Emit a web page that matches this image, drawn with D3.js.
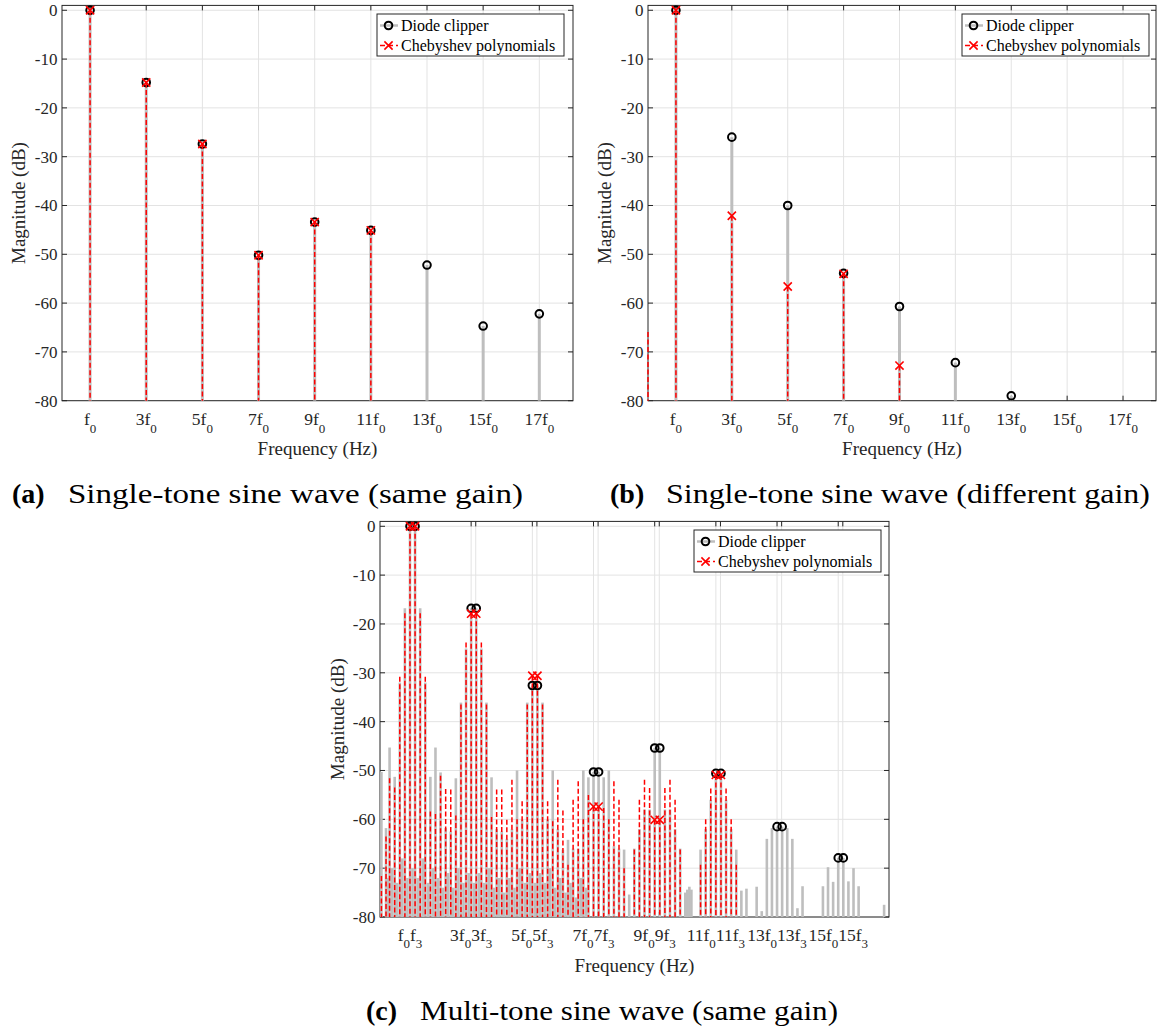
<!DOCTYPE html>
<html>
<head>
<meta charset="utf-8">
<title>Diode clipper vs Chebyshev spectra</title>
<script src="https://d3js.org/d3.v7.min.js"></script>
<style>
*{margin:0;padding:0;}
body{background:#fff;}
svg{display:block;font-family:"Liberation Serif","Times New Roman",serif;}
</style>
</head>
<body>
<script>
// ---- data (frequencies in units of f0, magnitudes in dB) ----
var yTicks = [0, -10, -20, -30, -40, -50, -60, -70, -80];
var yMin = -80, yMax = 1;

// (a) single tone, same gain
var aDiodeFreq = [1, 3, 5, 7, 9, 11, 13, 15, 17];
var aDiode     = [0, -14.8, -27.4, -50.2, -43.4, -45.1, -52.2, -64.7, -62.2];
var aChebFreq  = [1, 3, 5, 7, 9, 11];
var aCheb      = [0, -14.8, -27.4, -50.2, -43.4, -45.1];

// (b) single tone, different gain (Chebyshev also has a DC term)
var bDiodeFreq = [1, 3, 5, 7, 9, 11, 13];
var bDiode     = [0, -26.0, -40.0, -53.9, -60.7, -72.2, -79.0];
var bChebFreq  = [1, 3, 5, 7, 9];
var bCheb      = [0, -42.1, -56.6, -54.0, -72.8];
var bChebDC    = -65.9;

var abTickHarm   = [1, 3, 5, 7, 9, 11, 13, 15, 17];
var abTickPrefix = ["", "3", "5", "7", "9", "11", "13", "15", "17"];

// (c) multi tone: components on bins of f0/6
var cDiodeBins = [0.4, 1.3, 2, 3, 4, 5, 6, 7, 8, 9,
  10, 11, 12, 13, 14, 15, 16, 17, 18, 19,
  20, 21, 22, 23, 24, 25, 26, 27, 28, 29,
  30, 31, 32, 33, 34, 35, 36, 37, 38, 39,
  40, 41, 42, 43, 44, 45, 46, 47, 48, 49,
  50, 51, 52, 53, 54, 55, 56, 57, 58, 59,
  60, 60.4, 60.8, 61.2,
  63, 64, 65, 66, 67, 68, 69, 70, 71, 72,
  74, 75, 76, 77, 78, 79, 80, 81, 82, 83,
  87, 88, 89, 90, 91, 92, 93, 94, 99];
var cDiode = [-50.3, -61.8, -45.3, -51.3, -32.0, -16.8, 0, 0, -16.8, -32.0,
  -51.3, -45.3, -50.4, -61.8, -62.5, -51.6, -36.1, -25.0, -16.8, -16.8,
  -25.0, -36.1, -51.4, -62.0, -62.5, -64.0, -62.0, -50.0, -60.0, -36.1,
  -32.6, -32.6, -36.1, -60.0, -50.0, -62.0, -66.2, -64.2, -66.0, -66.0,
  -50.0, -51.4, -50.3, -50.3, -51.4, -50.0, -65.5, -66.0, -66.2, -75.4,
  -66.0, -62.0, -58.0, -58.0, -45.4, -45.4, -58.0, -58.0, -62.0, -66.0,
  -75.0, -74.4, -73.8, -74.4,
  -66.2, -62.0, -56.0, -50.6, -50.6, -56.0, -62.0, -66.2, -74.6, -74.2,
  -73.8, -78.8, -64.0, -61.8, -61.5, -61.5, -61.8, -64.0, -78.2, -73.7,
  -73.7, -69.8, -72.8, -67.9, -67.9, -72.7, -70.0, -73.7, -77.5];

var cChebBins = [0.4, 1.3, 2, 3, 4, 5, 6, 7, 8, 9,
  10, 11, 12, 13, 14, 15, 16, 17, 18, 19,
  20, 21, 22, 23, 24, 25, 26, 27, 28, 29,
  30, 31, 32, 33, 34, 35, 36, 37, 38, 39,
  40, 41, 42, 43, 44, 45, 46, 47, 48,
  50, 51, 52, 53, 54, 55, 56, 57, 58, 59,
  63, 64, 65, 66, 67, 68, 69, 70];
var cCheb = [-71.6, -63.5, -51.6, -53.5, -30.8, -17.8, 0, 0, -17.8, -30.8,
  -58.4, -58.9, -51.1, -53.8, -53.9, -59.2, -36.5, -23.8, -17.9, -17.9,
  -23.8, -36.5, -59.5, -53.9, -53.9, -60.1, -51.9, -60.0, -56.3, -36.5,
  -30.6, -30.6, -36.5, -56.3, -60.4, -51.9, -58.2, -69.3, -56.0, -52.2,
  -60.0, -55.0, -57.4, -57.4, -57.7, -60.0, -52.2, -56.0, -70.0,
  -66.2, -56.0, -51.9, -53.6, -60.1, -60.1, -53.6, -51.9, -56.0, -66.2,
  -69.3, -60.0, -53.7, -50.9, -50.9, -53.7, -60.0, -69.3];

// low level diode components between the main bins
var cLowBins = [1.7, 2.5, 3.5, 4.5, 5.5, 6.5, 7.5, 8.5, 9.5, 10.5,
  11.5, 12.5, 13.5, 14.5, 15.5, 16.5, 17.5, 18.5, 19.5, 20.5,
  21.5, 22.5, 23.5, 24.5, 25.5, 26.5, 27.5, 28.5, 29.5, 30.5,
  31.5, 32.5, 33.5, 34.5, 35.5, 36.5, 37.5, 38.5, 39.5, 40.5];
var cLow = [-72, -70, -73, -68, -72, -70, -72, -68, -73, -70,
  -72, -74, -71, -74, -70, -73, -71, -73, -71, -73,
  -70, -74, -72, -75, -72, -74, -70, -73, -71, -73,
  -71, -73, -70, -74, -72, -75, -73, -76, -72, -74];

// tone pairs carrying markers
var cMarkBins = [6, 7, 18, 19, 30, 31, 42, 43, 54, 55, 66, 67, 78, 79, 90, 91];

var cTickHarm   = [1, 3, 5, 7, 9, 11, 13, 15];
var cTickF3     = [1.15, 3.15, 5.15, 7.15, 9.15, 11.15, 13.15, 15.15];
var cTickPrefix = ["", "3", "5", "7", "9", "11", "13", "15"];

// ---- drawing ----
var W = 1158, H = 1030;
var GRAY = "#bebebe", RED = "#ff0000", AX = "#262626", GRID = "#e3e3e3";
var MR = 3.8, XS = 4.1;

var svg = d3.select("body").append("svg").attr("width", W).attr("height", H);

function makePanel(p) {
	var x = d3.scaleLinear().domain(p.xDom).range([p.left, p.right]);
	var y = d3.scaleLinear().domain([yMin, yMax]).range([p.bottom, p.top]);
	var g = svg.append("g");

	// grid
	g.selectAll(".gx").data(p.gridX).join("line")
		.attr("x1", d => x(d)).attr("x2", d => x(d))
		.attr("y1", p.top).attr("y2", p.bottom)
		.attr("stroke", GRID).attr("stroke-width", 1);
	g.selectAll(".gy").data(yTicks).join("line")
		.attr("x1", p.left).attr("x2", p.right)
		.attr("y1", d => y(d)).attr("y2", d => y(d))
		.attr("stroke", GRID).attr("stroke-width", 1);

	// box
	g.append("rect").attr("x", p.left).attr("y", p.top)
		.attr("width", p.right - p.left).attr("height", p.bottom - p.top)
		.attr("fill", "none").attr("stroke", AX).attr("stroke-width", 1);

	// ticks (inside, all sides)
	var tl = 5;
	p.gridX.forEach(function(d) {
		g.append("line").attr("x1", x(d)).attr("x2", x(d)).attr("y1", p.bottom).attr("y2", p.bottom - tl).attr("stroke", AX);
		g.append("line").attr("x1", x(d)).attr("x2", x(d)).attr("y1", p.top).attr("y2", p.top + tl).attr("stroke", AX);
	});
	yTicks.forEach(function(d) {
		g.append("line").attr("x1", p.left).attr("x2", p.left + tl).attr("y1", y(d)).attr("y2", y(d)).attr("stroke", AX);
		g.append("line").attr("x1", p.right).attr("x2", p.right - tl).attr("y1", y(d)).attr("y2", y(d)).attr("stroke", AX);
	});

	// y tick labels
	g.selectAll(".yl").data(yTicks).join("text")
		.attr("x", p.left - 4.5).attr("y", d => y(d)).attr("dy", "0.35em")
		.attr("text-anchor", "end").attr("font-size", 17).attr("fill", AX)
		.text(d => d);

	// axis labels
	g.append("text").attr("transform", "translate(" + p.ylabX + "," + ((p.top + p.bottom) / 2) + ") rotate(-90)")
		.attr("text-anchor", "middle").attr("font-size", 19).attr("fill", AX).text("Magnitude (dB)");
	g.append("text").attr("x", (p.left + p.right) / 2).attr("y", p.bottom + 54.5)
		.attr("text-anchor", "middle").attr("font-size", 19).attr("fill", AX).text("Frequency (Hz)");

	return {g: g, x: x, y: y};
}

function xLabel(g, px, py, prefix, sub, anchor) {
	var t = g.append("text").attr("x", px).attr("y", py).attr("text-anchor", anchor)
		.attr("font-size", 17.5).attr("fill", AX);
	t.append("tspan").text(prefix + "f");
	t.append("tspan").attr("dy", 7.5).attr("font-size", 13).text(sub);
}

function stems(g, x, y, freqs, vals, color, width, dash) {
	var data = freqs.map((f, i) => ({f: f, v: vals[i]}));
	g.append("g").selectAll("line").data(data).join("line")
		.attr("x1", d => x(d.f)).attr("x2", d => x(d.f))
		.attr("y1", d => y(d.v)).attr("y2", y(yMin))
		.attr("stroke", color).attr("stroke-width", width)
		.attr("stroke-dasharray", dash || null);
}

function circles(g, x, y, freqs, vals) {
	var data = freqs.map((f, i) => ({f: f, v: vals[i]}));
	g.append("g").selectAll("circle").data(data).join("circle")
		.attr("cx", d => x(d.f)).attr("cy", d => y(d.v)).attr("r", MR)
		.attr("fill", "none").attr("stroke", "#000").attr("stroke-width", 2);
}

function xPath(cx, cy) {
	return "M" + (cx - XS) + "," + (cy - XS) + "L" + (cx + XS) + "," + (cy + XS) +
		"M" + (cx - XS) + "," + (cy + XS) + "L" + (cx + XS) + "," + (cy - XS);
}

function crosses(g, x, y, freqs, vals) {
	var data = freqs.map((f, i) => ({f: f, v: vals[i]}));
	g.append("g").selectAll("path").data(data).join("path")
		.attr("d", d => xPath(x(d.f), y(d.v)))
		.attr("fill", "none").attr("stroke", RED).attr("stroke-width", 1.6);
}

function legend(g, lx, ly) {
	var w = 187, h = 42;
	g.append("rect").attr("x", lx).attr("y", ly).attr("width", w).attr("height", h)
		.attr("fill", "#fff").attr("stroke", AX).attr("stroke-width", 1);
	var r1 = ly + 11.5, r2 = ly + 31.5;
	g.append("line").attr("x1", lx + 3).attr("x2", lx + 21).attr("y1", r1).attr("y2", r1)
		.attr("stroke", GRAY).attr("stroke-width", 2.5);
	g.append("circle").attr("cx", lx + 11.5).attr("cy", r1).attr("r", MR)
		.attr("fill", "none").attr("stroke", "#000").attr("stroke-width", 2);
	g.append("line").attr("x1", lx + 3).attr("x2", lx + 21).attr("y1", r2).attr("y2", r2)
		.attr("stroke", RED).attr("stroke-width", 1.5).attr("stroke-dasharray", "5,3");
	g.append("path").attr("d", xPath(lx + 11.5, r2))
		.attr("stroke", RED).attr("stroke-width", 1.6).attr("fill", "none");
	g.append("text").attr("x", lx + 24).attr("y", r1 + 5.5).attr("font-size", 16).attr("fill", "#000").text("Diode clipper");
	g.append("text").attr("x", lx + 24).attr("y", r2 + 5.5).attr("font-size", 16).attr("fill", "#000").text("Chebyshev polynomials");
}

function caption(lx, tx, tEnd, by, lab, txt) {
	svg.append("text").attr("x", lx).attr("y", by).attr("font-size", 28).attr("font-weight", "bold")
		.attr("fill", "#000").text(lab);
	svg.append("text").attr("x", tx).attr("y", by).attr("font-size", 28).attr("fill", "#000")
		.attr("textLength", tEnd - tx).attr("lengthAdjust", "spacingAndGlyphs").text(txt);
}

// panel (a)
var pa = makePanel({left: 62, right: 573, top: 5.4, bottom: 400.7, xDom: [0, 18.2], gridX: abTickHarm, ylabX: 25});
abTickHarm.forEach((h, i) => xLabel(pa.g, pa.x(h), 400.7 + 24.5, abTickPrefix[i], "0", "middle"));
stems(pa.g, pa.x, pa.y, aDiodeFreq, aDiode, GRAY, 3);
circles(pa.g, pa.x, pa.y, aDiodeFreq, aDiode);
stems(pa.g, pa.x, pa.y, aChebFreq, aCheb, RED, 1.5, "5,2.5");
crosses(pa.g, pa.x, pa.y, aChebFreq, aCheb);
legend(pa.g, 377, 14);

// panel (b)
var pb = makePanel({left: 648, right: 1156, top: 5.4, bottom: 400.7, xDom: [0, 18.18], gridX: abTickHarm, ylabX: 611});
abTickHarm.forEach((h, i) => xLabel(pb.g, pb.x(h), 400.7 + 24.5, abTickPrefix[i], "0", "middle"));
stems(pb.g, pb.x, pb.y, bDiodeFreq, bDiode, GRAY, 3);
circles(pb.g, pb.x, pb.y, bDiodeFreq, bDiode);
stems(pb.g, pb.x, pb.y, [0], [bChebDC], RED, 1.5, "5,2.5");
stems(pb.g, pb.x, pb.y, bChebFreq, bCheb, RED, 1.5, "5,2.5");
crosses(pb.g, pb.x, pb.y, bChebFreq, bCheb);
legend(pb.g, 962, 14);

// panel (c)
var binF = b => b / 6;
var pc = makePanel({left: 380, right: 889, top: 521.4, bottom: 917, xDom: [0.02, 16.66],
	gridX: cTickHarm.concat(cTickF3), ylabX: 344});
cTickHarm.forEach((h, i) => {
	xLabel(pc.g, pc.x(h), 917 + 23.5, cTickPrefix[i], "0", "end");
	xLabel(pc.g, pc.x(h), 917 + 23.5, cTickPrefix[i], "3", "start");
});
stems(pc.g, pc.x, pc.y, cLowBins.map(binF), cLow, GRAY, 2.6);
stems(pc.g, pc.x, pc.y, cDiodeBins.map(binF), cDiode, GRAY, 2.6);
circles(pc.g, pc.x, pc.y, cMarkBins.map(binF), cMarkBins.map(b => cDiode[cDiodeBins.indexOf(b)]));
stems(pc.g, pc.x, pc.y, cChebBins.map(binF), cCheb, RED, 1.5, "5,2.5");
var cMarkCheb = cMarkBins.filter(b => cChebBins.indexOf(b) >= 0);
crosses(pc.g, pc.x, pc.y, cMarkCheb.map(binF), cMarkCheb.map(b => cCheb[cChebBins.indexOf(b)]));
legend(pc.g, 694, 530);

// captions
caption(12, 68, 523, 503, "(a)", "Single-tone sine wave (same gain)");
caption(610, 666, 1150, 503, "(b)", "Single-tone sine wave (different gain)");
caption(366, 420, 838, 1020, "(c)", "Multi-tone sine wave (same gain)");
</script>
</body>
</html>
